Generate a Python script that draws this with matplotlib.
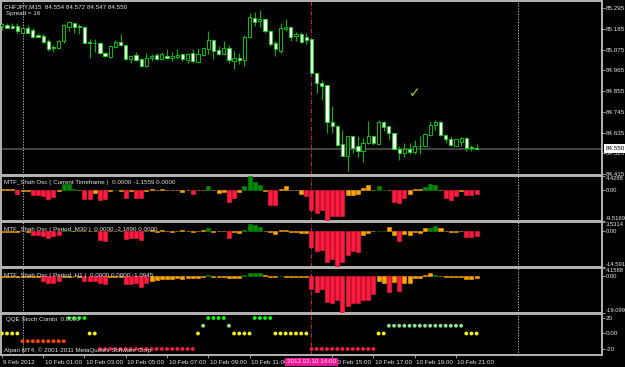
import matplotlib
matplotlib.use("Agg")
import matplotlib.pyplot as plt
import matplotlib.transforms as mtransforms

plt.rcParams['font.family'] = ['Liberation Sans', 'DejaVu Sans']

# M15 bars, bar 0 = 10 Feb 2012 00:00
bars = list(range(-4, 89))

opens = [85.201, 85.204, 85.201, 85.201, 85.165, 85.187, 85.178, 85.151, 85.147, 85.121,
         85.089, 85.083, 85.119, 85.197, 85.215, 85.201, 85.195, 85.115, 85.107, 85.112,
         85.059, 85.037, 85.089, 85.117, 85.099, 85.027, 85.048, 85.023, 84.987, 85.032,
         85.044, 85.023, 85.041, 85.030, 85.037, 85.050, 85.019, 85.055, 85.009, 85.048,
         85.076, 85.123, 85.073, 85.050, 85.085, 85.014, 85.030, 85.018, 85.139, 85.243,
         85.224, 85.236, 85.174, 85.108, 85.067, 85.183, 85.192, 85.147, 85.156, 85.139,
         85.130, 84.948, 84.899, 84.886, 84.691, 84.667, 84.575, 84.513, 84.614, 84.561,
         84.539, 84.579, 84.618, 84.575, 84.692, 84.667, 84.632, 84.547, 84.529, 84.548,
         84.534, 84.561, 84.561, 84.623, 84.676, 84.689, 84.623, 84.602, 84.564, 84.587,
         84.607, 84.557, 84.554]
highs = [85.215, 85.213, 85.213, 85.213, 85.194, 85.206, 85.187, 85.162, 85.158, 85.130,
         85.099, 85.126, 85.211, 85.224, 85.215, 85.210, 85.195, 85.130, 85.133, 85.115,
         85.064, 85.099, 85.126, 85.156, 85.099, 85.044, 85.062, 85.030, 85.059, 85.050,
         85.059, 85.062, 85.080, 85.062, 85.076, 85.059, 85.059, 85.080, 85.085, 85.085,
         85.171, 85.133, 85.094, 85.121, 85.098, 85.067, 85.059, 85.151, 85.267, 85.275,
         85.284, 85.240, 85.179, 85.119, 85.215, 85.236, 85.197, 85.169, 85.169, 85.160,
         85.133, 84.948, 84.913, 84.886, 84.778, 84.676, 84.650, 84.618, 84.614, 84.618,
         84.605, 84.694, 84.623, 84.699, 84.694, 84.671, 84.632, 84.561, 84.579, 84.582,
         84.596, 84.614, 84.635, 84.694, 84.703, 84.694, 84.628, 84.614, 84.600, 84.611,
         84.609, 84.570, 84.572]
lows = [85.179, 85.187, 85.183, 85.165, 85.158, 85.165, 85.135, 85.140, 85.112, 85.067,
        85.064, 85.080, 85.112, 85.174, 85.160, 85.156, 85.107, 85.028, 85.064, 85.050,
        85.037, 85.032, 85.085, 85.094, 85.019, 85.005, 85.014, 84.984, 84.984, 85.014,
        85.019, 85.019, 85.023, 85.014, 85.023, 85.014, 85.005, 85.005, 85.005, 85.041,
        85.050, 85.027, 85.044, 85.044, 85.005, 84.970, 84.996, 84.987, 85.135, 85.201,
        85.192, 85.165, 85.094, 85.041, 85.059, 85.174, 85.121, 85.121, 85.112, 85.103,
        84.943, 84.842, 84.806, 84.632, 84.632, 84.561, 84.511, 84.433, 84.525, 84.507,
        84.481, 84.575, 84.570, 84.573, 84.641, 84.596, 84.543, 84.490, 84.504, 84.522,
        84.522, 84.522, 84.557, 84.619, 84.646, 84.618, 84.579, 84.561, 84.561, 84.561,
        84.539, 84.539, 84.547]
closes = [85.211, 85.187, 85.190, 85.171, 85.188, 85.165, 85.139, 85.144, 85.117, 85.080,
          85.082, 85.121, 85.204, 85.219, 85.197, 85.192, 85.112, 85.112, 85.112, 85.055,
          85.041, 85.094, 85.117, 85.099, 85.023, 85.041, 85.019, 84.987, 85.030, 85.043,
          85.023, 85.050, 85.030, 85.041, 85.044, 85.023, 85.053, 85.014, 85.050, 85.082,
          85.124, 85.067, 85.050, 85.082, 85.018, 85.030, 85.018, 85.139, 85.245, 85.222,
          85.236, 85.171, 85.103, 85.076, 85.187, 85.192, 85.144, 85.156, 85.115, 85.128,
          84.948, 84.895, 84.884, 84.691, 84.667, 84.570, 84.513, 84.614, 84.552, 84.539,
          84.582, 84.618, 84.579, 84.689, 84.664, 84.632, 84.547, 84.525, 84.548, 84.534,
          84.564, 84.566, 84.628, 84.676, 84.692, 84.623, 84.600, 84.570, 84.600, 84.605,
          84.552, 84.552, 84.550]

# MTF Shah oscillator, three timeframes; state r=red, o=orange, g=green
osc_cur = [0.3, 0.3, 0.3, -1.3, -0.3, -0.3, -1.6, -1.5, -1.8, -2.7,
           -2.0, -0.3, 2.0, 2.0, 0.5, 0.1, -2.7, -2.7, -0.7, -2.9,
           -2.7, -0.2, 0.2, -0.2, -2.4, -0.3, -2.4, -2.4, -0.2, 0.3,
           0.2, 0.5, 0.2, 0.1, 0.2, -0.5, 0.1, -1.3, 0.1, 0.2,
           1.2, 0.2, -0.7, -0.5, -3.5, -2.4, -0.5, 1.2, 4.4288, 2.5,
           1.6, -0.2, -4.5, -4.5, 0.5, 1.2, 0.2, 0.1, -1.2, -1.8,
           -6.0, -6.9, -6.0, -9.5169, -8.0, -8.0, -8.0, -1.4, -1.4, -1.0,
           0.6, 1.7, 0.1, 1.4, 0.2, 0.05, -3.5, -4.0, -2.5, -1.0,
           0.3, 0.3, 0.9, 1.9, 1.6, 0.1, -2.3, -2.9, -1.8, -0.2,
           -1.6, -1.6, -1.1559]
st_cur = ("ooo" "r" "oo" "rrrrr" "o" "ggg" "o" "rr" "o" "rr" "o" "g" "o" "r" "o" "rr"
          "ooooooooo" "r" "oo" "g" "ooo" "rr" "o" "gggg" "o" "rr" "ooooo" "rrrrrrrr"
          "oooooo" "gg" "o" "rrr" "ooo" "ggg" "o" "rrr" "o" "rrr")

osc_m30 = [-0.5, -0.5, -0.4, -0.3, -0.2, -0.3, -1.8, -1.8, -2.1, -3.0,
           -2.1, -1.8, 0.2, 0.1, 0.1, 0.1, 0.1, 0.1, -0.1, -3.9,
           -4.1, -0.2, -0.2, -0.2, -3.3, -3.0, -3.0, -3.9, -0.2, 0.2,
           -0.3, 0.2, -0.2, -0.3, 0.1, 0.2, -0.2, -0.3, 0.1, 0.2,
           1.2, -0.5, -0.2, 0.1, -2.8, -0.6, -0.7, 0.3, 2.6, 2.2,
           1.6, 0.1, -0.4, -1.2, 0.5, 0.5, -0.3, -0.4, -1.0, -1.0,
           -6.5, -8.0, -7.9, -12.4, -11.4, -14.591, -12.4, -9.9, -8.0, -8.5,
           -1.6, -0.7, 0.1, 0.05, 0.05, 1.4, -1.8, -4.0, -1.4, -1.8,
           -0.5, -0.7, 1.2, 1.2, 1.8, 1.0, 0.1, -0.5, -0.3, -0.1,
           -2.7, -2.7, -2.189]
st_m30 = ("oooooo" "rrrrrr" "gg" "ooooo" "rr" "ooo" "rrrr" "oooooooooooo" "g" "ooo"
          "r" "oo" "gggg" "ooooooooo" "rrrrrrrrrr" "ooo" "gg" "oo" "r" "ooooo" "gg"
          "ooooo" "rrr")

osc_h1 = [-0.3, -0.3, -0.3, -0.3, -0.5, -0.5, -0.5, -0.5, -2.8, -3.7,
          -3.7, -2.8, -0.3, -0.3, -0.2, -0.3, -2.5, -2.5, -2.5, -3.7,
          -4.2, -0.5, -0.3, -0.5, -4.2, -4.2, -3.7, -5.5, -3.7, -2.5,
          -2.0, -1.5, -1.3, -1.3, -1.2, -1.3, -0.8, -1.2, -0.8, -0.6,
          0.3, -0.3, -0.5, -0.5, -1.2, -1.2, -1.0, 0.3, 1.5, 1.5,
          1.5, 0.3, -0.5, -0.5, 0.1, -0.3, -0.4, -0.3, -0.3, -0.3,
          -6.7, -8.0, -6.7, -13.2, -14.1, -12.3, -19.0993, -15.3, -13.8, -13.8,
          -12.3, -12.3, -9.3, -2.6, -3.5, -8.0, -3.2, -7.6, -3.5, -3.5,
          -1.2, -1.2, 0.5, 1.6, 0.3, 0.1, -0.3, -0.5, -0.3, -0.5,
          -1.4, -1.4, -1.0945]
st_h1 = ("oooooooo" "rrrr" "oooo" "rrrrr" "ooo" "rrrrr" "ooooooooooo" "g" "oooooo"
         "gggg" "ooo" "g" "ooooo" "rrrrrrrrrrrrr" "oo" "r" "o" "r" "oooooo" "g"
         "oooooooo")

# QQE Stoch Combi dot level per bar
qqe = ([0] * 4 + [-10] * 9 + [20] * 4 + [0] * 2 + [-20] * 19 + [0] + [10] + [20] * 4
       + [10] + [0] * 4 + [20] * 4 + [0] * 7 + [-20] * 13 + [0] * 2 + [10] * 15 + [0] * 3)

price_ticks = [85.295, 85.185, 85.075, 84.965, 84.855, 84.745, 84.635, 84.525, 84.415]
time_bars = [-4, 4, 12, 20, 28, 36, 44, 60, 68, 76, 84]
time_labels = ["9 Feb 2012", "10 Feb 01:00", "10 Feb 03:00", "10 Feb 05:00",
               "10 Feb 07:00", "10 Feb 09:00", "10 Feb 11:00", "10 Feb 15:00",
               "10 Feb 17:00", "10 Feb 19:00", "10 Feb 21:00"]

assert len(opens) == len(highs) == len(lows) == len(closes) == len(bars)
assert len(osc_cur) == len(st_cur) == len(osc_m30) == len(st_m30) == 93
assert len(osc_h1) == len(st_h1) == len(qqe) == 93

W, H = 625, 367
fig = plt.figure(figsize=(W / 100, H / 100), dpi=100, facecolor='black')


def px_axes(x0, y0, x1, y1):
    return fig.add_axes([x0 / W, 1 - y1 / H, (x1 - x0) / W, (y1 - y0) / H])


FRAME = '#B4B4B4'
TXT = '#E6E6E6'
FS = 4.5
XLIM = (-4.17, 112.3)
day_breaks = [0, 96]
cursor_bar = 56

ax_main = px_axes(1, 1, 602, 175)
ax1 = px_axes(1, 176, 602, 221)
ax2 = px_axes(1, 222, 602, 267)
ax3 = px_axes(1, 268, 602, 313)
ax4 = px_axes(1, 314, 602, 355)
all_axes = [ax_main, ax1, ax2, ax3, ax4]

for ax in all_axes:
    ax.set_facecolor('black')
    ax.set_xlim(*XLIM)
    for sp in ax.spines.values():
        sp.set_color(FRAME)
        sp.set_linewidth(1.4)
    ax.yaxis.tick_right()
    ax.tick_params(axis='y', direction='out', length=2, width=0.6, colors=FRAME,
                   labelcolor=TXT, labelsize=FS, pad=0.8)
    ax.tick_params(axis='x', bottom=False, labelbottom=False)
    for b in day_breaks:
        ax.axvline(b, color='#C8C8C8', lw=0.7, ls=(0, (1.2, 1.6)), zorder=1)
    ax.axvline(cursor_bar, color='#C8186C', lw=0.8, ls=(0, (4, 1.5, 1, 1.5)), zorder=1)

# --- candles ---
ax_main.set_ylim(84.4097, 85.3323)
ax_main.axhline(closes[-1], color='#4A4A4A', lw=1.3, zorder=1)
ax_main.vlines(bars, lows, highs, color='#00B400', lw=0.8, zorder=2)
bottoms = [min(o, c) for o, c in zip(opens, closes)]
heights = [max(abs(c - o), 0.0015) for o, c in zip(opens, closes)]
fills = ['white' if c < o else 'black' for o, c in zip(opens, closes)]
ax_main.bar(bars, heights, width=0.62, bottom=bottoms, color=fills,
            edgecolor='#00E000', linewidth=0.6, zorder=3)
ax_main.set_yticks(price_ticks)
ax_main.set_yticklabels([f"{p:.3f}" for p in price_ticks])
blend = mtransforms.blended_transform_factory(ax_main.transAxes, ax_main.transData)
ax_main.text(1.006, closes[-1], f"{closes[-1]:.3f}", transform=blend, ha='left',
             va='center', fontsize=FS, color='black', zorder=10, clip_on=False,
             bbox=dict(boxstyle='square,pad=0.25', fc='white', ec='none'))
ax_main.text(76, 84.843, '\u2713', color='#A8D818', fontsize=10, fontweight='bold',
             ha='center', va='center', family=['DejaVu Sans'])

# --- oscillators ---
osc_colors = {'r': '#FF1A40', 'o': '#FFA500', 'g': '#008C00'}
panels = [(ax1, osc_cur, st_cur, (-9.5169, 4.4288), ["4.4288", "0.00", "-9.5169"]),
          (ax2, osc_m30, st_m30, (-14.591, 3.5314), ["3.5314", "0.00", "-14.591"]),
          (ax3, osc_h1, st_h1, (-19.0993, 4.1588), ["4.1588", "0.00", "-19.0993"])]
for ax, vals, states, lim, labs in panels:
    cols = [osc_colors[s] for s in states]
    ax.bar(bars, vals, width=0.78, color=cols, edgecolor=cols, linewidth=0.4, zorder=3)
    ax.set_ylim(*lim)
    ax.set_yticks([lim[1], 0, lim[0]])
    ax.set_yticklabels(labs)
    ax.tick_params(axis='y', labelsize=4.2, pad=0.5)
    tl = ax.get_yticklabels()
    tl[0].set_va('top')
    tl[2].set_va('bottom')

# --- QQE dots ---
qqe_colors = {20: '#00FF00', 10: '#8CE88C', 0: '#FFFF00', -10: '#FF4500', -20: '#FF1A3C'}
ax4.scatter(bars, qqe, s=7.5, c=[qqe_colors[q] for q in qqe], linewidths=0, zorder=3)
ax4.set_ylim(-27.8, 25.2)
ax4.set_yticks([20, 0, -20])
ax4.set_yticklabels(["20", "0.00", "-20"])

# time axis
ax4.tick_params(axis='x', bottom=True, labelbottom=True, direction='out', length=2.5,
                width=0.6, colors=FRAME, labelcolor=TXT, labelsize=FS, pad=1)
ax4.set_xticks(time_bars)
ax4.set_xticklabels(time_labels)
shift = mtransforms.ScaledTranslation(1.5 / 100, 0, fig.dpi_scale_trans)
for lbl in ax4.get_xticklabels():
    lbl.set_ha('left')
    lbl.set_transform(lbl.get_transform() + shift)
tb = mtransforms.blended_transform_factory(ax4.transData, ax4.transAxes)
ax4.text(cursor_bar, -0.17, "2012.02.10 14:00", transform=tb, ha='center', va='center',
         fontsize=FS, color='#FFE4F4', zorder=10, clip_on=False,
         bbox=dict(boxstyle='square,pad=0.3', fc='#F0169A', ec='none'))


def ftext(x, y, s):
    fig.text(x / W, 1 - y / H, s, color=TXT, fontsize=FS, ha='left', va='center', zorder=20)


ftext(4, 6.5, "CHFJPY,M15  84.554 84.572 84.547 84.550")
ftext(6, 13.5, "Spread = 16")
ftext(4, 183, "MTF_Shah Osc ( Current Timeframe )  0.0000 -1.1559 0.0000")
ftext(4, 229, "MTF_Shah Osc ( Period_M30 )  0.0000 -2.1890 0.0000")
ftext(4, 275, "MTF_Shah Osc ( Period_H1 )  0.0000 0.0000 -1.0945")
ftext(6, 320, "QQE Stoch Combi  0.0000")
ftext(4, 350.5, "Alpari MT4, \u00a9 2001-2011 MetaQuotes Software Corp.")

fig.savefig("out.png", dpi=100, facecolor='black')
